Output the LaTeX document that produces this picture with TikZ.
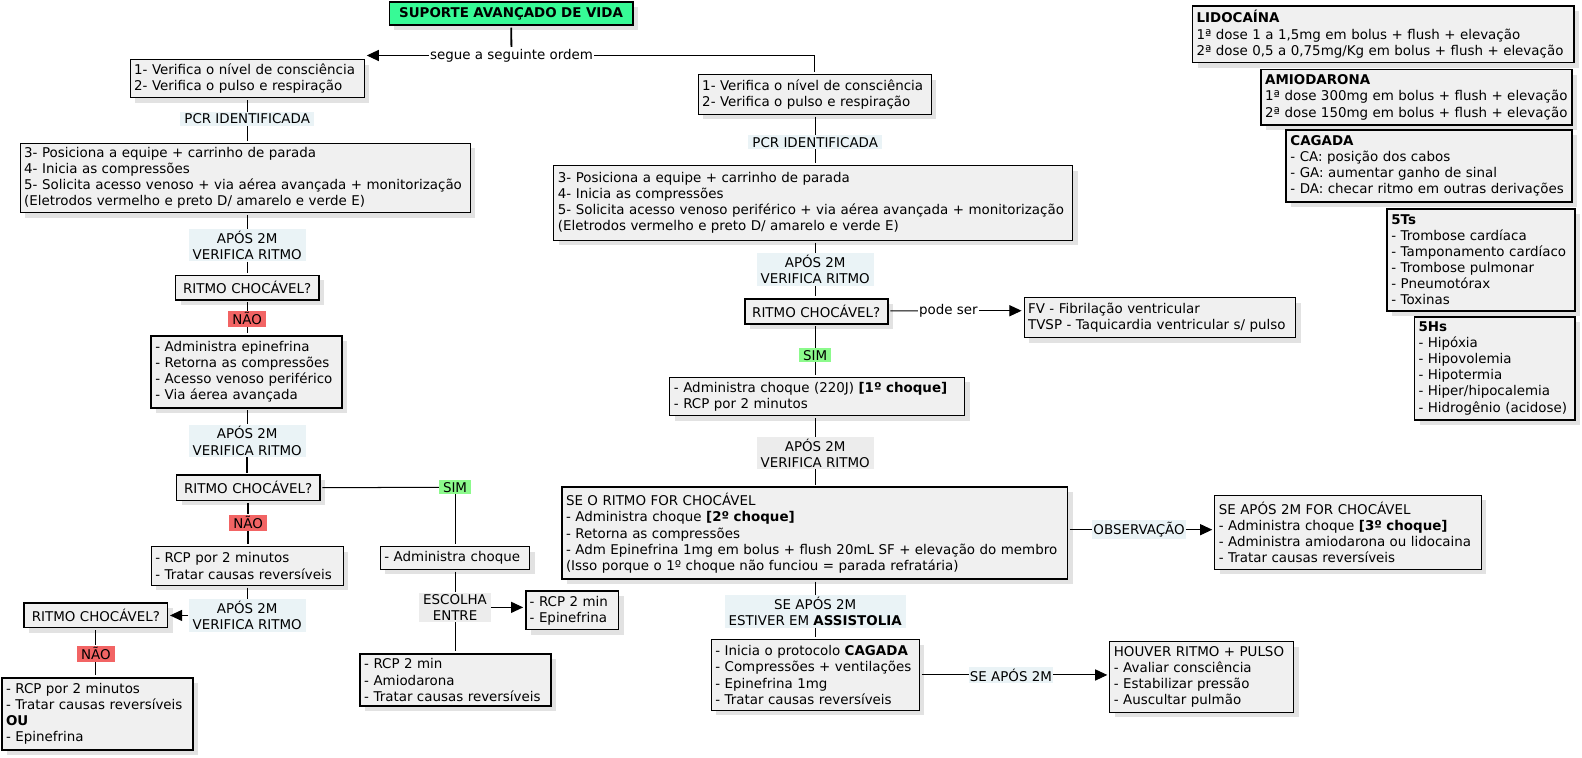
\documentclass[tikz,border=0pt]{standalone}
\usepackage{fontspec}
\setmainfont{DejaVu Sans}
\usetikzlibrary{arrows.meta,shadows}
\definecolor{boxgray}{RGB}{240,240,240}
\definecolor{lblue}{RGB}{234,243,246}
\definecolor{lgray}{RGB}{236,236,236}
\definecolor{nred}{RGB}{242,100,100}
\definecolor{sgreen}{RGB}{140,250,140}
\definecolor{tgreen}{RGB}{55,250,150}
\definecolor{shadowc}{RGB}{226,226,226}
\newcommand\mybox[7]{%
  \pgfmathsetmacro\mbw{#4-#2}%
  \pgfmathsetmacro\mbh{#5-#3}%
  \pgfmathsetmacro\mtw{#4-#2-8}%
  \pgfmathsetmacro\mcx{(#2+#4)/2}%
  \pgfmathsetmacro\mcy{(#3+#5)/2}%
  \node[cbox,#6,anchor=center,minimum width=\mbw pt,minimum height=\mbh pt,text width=\mtw pt] (#1) at (\mcx,\mcy) {#7};}
\begin{document}
\begin{tikzpicture}[x=1pt,y=-1pt,
  every node/.style={font=\fontsize{13.3}{16}\selectfont},
  cbox/.style={draw, fill=boxgray, line width=1pt, inner xsep=4pt, inner ysep=2pt, outer sep=2.5pt, align=left,
    drop shadow={shadow xshift=5pt, shadow yshift=-5pt, fill=shadowc, opacity=1}},
  thickbox/.style={line width=1.8pt},
  lbl/.style={inner xsep=4pt, inner ysep=1.8pt, align=center},
  conn/.style={line width=1pt},
  thickline/.style={line width=1.8pt},
  arr/.style={line width=1pt, -{Triangle[length=12pt,width=11pt]}}
]
\useasboundingbox[fill=white] (0,0) rectangle (1568,751);

% title
\mybox{title}{386}{2}{627}{25}{thickbox,fill=tgreen,align=center}{\textbf{SUPORTE AVANÇADO DE VIDA}}
\node[lbl,fill=white,inner xsep=1pt] (seg) at (507,55) {segue a seguinte ordem};

% left column
\mybox{L1}{129}{59}{361}{97}{}{1- Verifica o nível de consciência\\2- Verifica o pulso e respiração}
\node[lbl,fill=lblue] (pcr1) at (245,118) {PCR IDENTIFICADA};
\mybox{L2}{20}{142}{466}{211}{}{3- Posiciona a equipe + carrinho de parada\\4- Inicia as compressões\\5- Solicita acesso venoso + via aérea avançada + monitorização\\(Eletrodos vermelho e preto D/ amarelo e verde E)}
\node[lbl,fill=lblue] (ap1) at (245,243) {APÓS 2M\\VERIFICA RITMO};
\mybox{R1L}{174}{273}{316}{297}{thickbox,align=center}{RITMO CHOCÁVEL?}
\node[lbl,fill=nred] (nao1) at (245,316) {NÃO};
\mybox{L4}{150}{333}{339}{404}{thickbox}{- Administra epinefrina\\- Retorna as compressões\\- Acesso venoso periférico\\- Via áerea avançada}
\node[lbl,fill=lblue] (ap2) at (245,437) {APÓS 2M\\VERIFICA RITMO};
\mybox{R2L}{175}{471}{317}{496}{thickbox,align=center}{RITMO CHOCÁVEL?}
\node[lbl,fill=sgreen] (sim1) at (451,483) {SIM};
\node[lbl,fill=nred] (nao2) at (246,518) {NÃO};
\mybox{L6}{150}{542}{340}{580}{}{- RCP por 2 minutos\\- Tratar causas reversíveis}
\node[lbl,fill=lblue] (ap3) at (245,610) {APÓS 2M\\VERIFICA RITMO};
\mybox{R3L}{24}{598}{166}{622}{thickbox,align=center}{RITMO CHOCÁVEL?}
\node[lbl,fill=nred] (nao3) at (95,648) {NÃO};
\mybox{L9}{2}{672}{191}{743}{thickbox}{- RCP por 2 minutos\\- Tratar causas reversíveis\\\textbf{OU}\\- Epinefrina}

% middle column
\mybox{adm}{377}{542}{525}{564}{}{- Administra choque}
\node[lbl,fill=lgray] (esc) at (451,602) {ESCOLHA\\ENTRE};
\mybox{rcpe}{521}{586}{613}{624}{thickbox}{- RCP 2 min\\- Epinefrina}
\mybox{rcpa}{357}{648}{546}{700}{thickbox}{- RCP 2 min\\- Amiodarona\\- Tratar causas reversíveis}

% right column
\mybox{R1}{692}{74}{923}{113}{}{1- Verifica o nível de consciência\\2- Verifica o pulso e respiração}
\node[lbl,fill=lblue] (pcr2) at (808,141) {PCR IDENTIFICADA};
\mybox{R2}{549}{164}{1063}{238}{}{3- Posiciona a equipe + carrinho de parada\\4- Inicia as compressões\\5- Solicita acesso venoso periférico + via aérea avançada + monitorização\\(Eletrodos vermelho e preto D/ amarelo e verde E)}
\node[lbl,fill=lblue] (ap4) at (808,267) {APÓS 2M\\VERIFICA RITMO};
\mybox{RR}{738}{296}{880}{321}{thickbox,align=center}{RITMO CHOCÁVEL?}
\node[lbl,fill=white,inner xsep=1pt] (pode) at (940,308) {pode ser};
\mybox{fv}{1015}{295}{1284}{335}{}{FV - Fibrilação ventricular\\TVSP - Taquicardia ventricular s/ pulso}
\node[lbl,fill=sgreen] (sim2) at (808,352) {SIM};
\mybox{ch1}{664}{374}{956}{412}{}{- Administra choque (220J) \textbf{[1º choque]}\\- RCP por 2 minutos}
\node[lbl,fill=lgray] (ap5) at (808,449) {APÓS 2M\\VERIFICA RITMO};
\mybox{se2}{557}{483}{1058}{574}{thickbox}{SE O RITMO FOR CHOCÁVEL\\- Administra choque \textbf{[2º choque]}\\- Retorna as compressões\\- Adm Epinefrina 1mg em bolus + flush 20mL SF + elevação do membro\\(Isso porque o 1º choque não funciou = parada refratária)}
\node[lbl,fill=lblue,inner xsep=1pt] (obs) at (1129,525) {OBSERVAÇÃO};
\mybox{se3}{1204}{491}{1468}{564}{}{SE APÓS 2M FOR CHOCÁVEL\\- Administra choque \textbf{[3º choque]}\\- Administra amiodarona ou lidocaina\\- Tratar causas reversíveis}
\node[lbl,fill=lblue] (sa1) at (808,606) {SE APÓS 2M\\ESTIVER EM \textbf{ASSISTOLIA}};
\mybox{cag}{705}{634}{911}{704}{}{- Inicia o protocolo \textbf{CAGADA}\\- Compressões + ventilações\\- Epinefrina 1mg\\- Tratar causas reversíveis}
\node[lbl,fill=lblue,inner xsep=1pt] (sa2) at (1002,669) {SE APÓS 2M};
\mybox{hou}{1100}{636}{1282}{706}{}{HOUVER RITMO + PULSO\\- Avaliar consciência\\- Estabilizar pressão\\- Auscultar pulmão}

% legend
\mybox{lido}{1182}{6}{1560}{62}{thickbox}{\textbf{LIDOCAÍNA}\\1ª dose 1 a 1,5mg em bolus + flush + elevação\\2ª dose 0,5 a 0,75mg/Kg em bolus + flush + elevação}
\mybox{amio}{1250}{69}{1558}{124}{line width=1.4pt}{\textbf{AMIODARONA}\\1ª dose 300mg em bolus + flush + elevação\\2ª dose 150mg em bolus + flush + elevação}
\mybox{cagl}{1275}{129}{1558}{200}{thickbox}{\textbf{CAGADA}\\- CA: posição dos cabos\\- GA: aumentar ganho de sinal\\- DA: checar ritmo em outras derivações}
\mybox{ts}{1375}{207}{1561}{308}{thickbox}{\textbf{5Ts}\\- Trombose cardíaca\\- Tamponamento cardíaco\\- Trombose pulmonar\\- Pneumotórax\\- Toxinas}
\mybox{hs}{1402}{314}{1561}{416}{thickbox}{\textbf{5Hs}\\- Hipóxia\\- Hipovolemia\\- Hipotermia\\- Hiper/hipocalemia\\- Hidrogênio (acidose)}

% connectors
\draw[thickline] (title) -- (seg);
\draw[arr] (seg) -- (seg -| L1.east);
\draw[conn] (seg) -| (R1);
\draw[conn] (pcr1 |- L1.south) -- (pcr1) -- (pcr1 |- L2.north);
\draw[conn] (ap1 |- L2.south) -- (ap1) -- (ap1 |- R1L.north);
\draw[conn] (nao1 |- R1L.south) -- (nao1) -- (nao1 |- L4.north);
\draw[conn] (ap2 |- L4.south) -- (ap2);
\draw[thickline] (ap2) -- (ap2 |- R2L.north);
\draw[conn] (R2L) -- (sim1);
\draw[conn] (sim1) -- (sim1 |- adm.north);
\draw[thickline] (nao2 |- R2L.south) -- (nao2) -- (nao2 |- L6.north);
\draw[conn] (ap3 |- L6.south) -- (ap3);
\draw[arr] (ap3) -- (ap3 -| R3L.east);
\draw[conn] (nao3 |- R3L.south) -- (nao3) -- (nao3 |- L9.north);
\draw[conn] (esc |- adm.south) -- (esc) -- (esc |- rcpa.north);
\draw[arr] (esc) -- (esc -| rcpe.west);
\draw[conn] (pcr2 |- R1.south) -- (pcr2) -- (pcr2 |- R2.north);
\draw[conn] (ap4 |- R2.south) -- (ap4) -- (ap4 |- RR.north);
\draw[conn] (RR) -- (pode);
\draw[arr] (pode) -- (pode -| fv.west);
\draw[conn] (sim2 |- RR.south) -- (sim2) -- (sim2 |- ch1.north);
\draw[conn] (ap5 |- ch1.south) -- (ap5) -- (ap5 |- se2.north);
\draw[conn] (obs -| se2.east) -- (obs);
\draw[arr] (obs) -- (obs -| se3.west);
\draw[conn] (sa1 |- se2.south) -- (sa1) -- (sa1 |- cag.north);
\draw[conn] (cag) -- (sa2);
\draw[arr] (sa2) -- (sa2 -| hou.west);
\end{tikzpicture}
\end{document}
